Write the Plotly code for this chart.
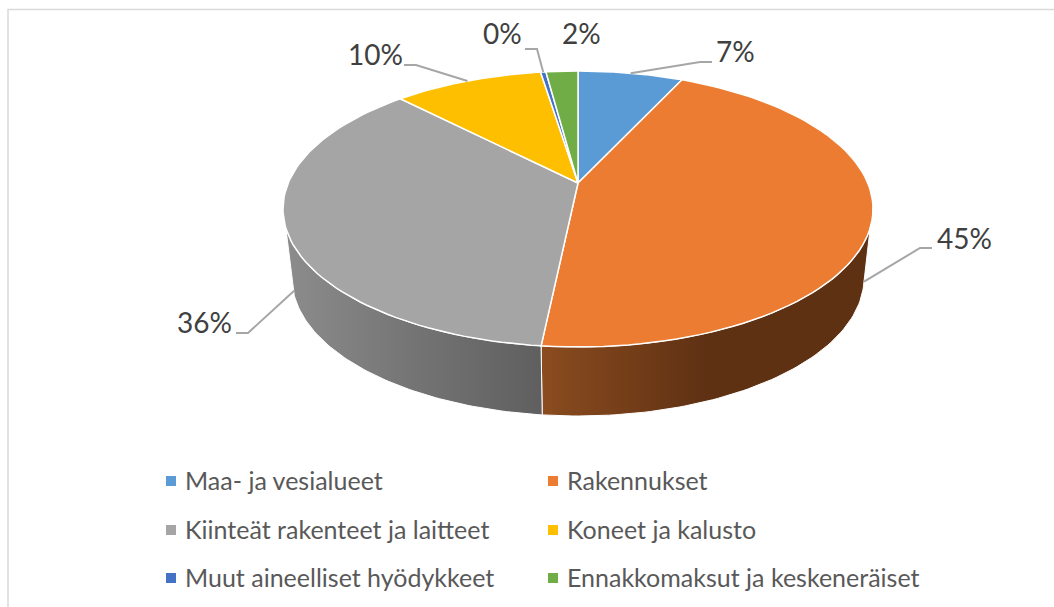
import math
import plotly.graph_objects as go

categories = ["Maa- ja vesialueet", "Rakennukset", "Kiinteät rakenteet ja laitteet",
              "Koneet ja kalusto", "Muut aineelliset hyödykkeet", "Ennakkomaksut ja keskeneräiset"]
values = [6.9, 44.75, 36.1, 9.8, 0.35, 2.1]
colors = ["#5B9BD5", "#EC7C31", "#A5A5A5", "#FDBF00", "#4472C4", "#70AD47"]
wall_grad = {1: ["#8B4C1F", "#5F3113", "#5F3113"], 2: ["#8C8C8C", "#747474", "#5F5F5F"]}
label_elbow = [(700, 62), (920, 248), (248, 333), (416, 65), (537, 49), None]
label_pos = [(735, 51), (964, 238), (204, 322), (375, 54), (502, 33), (581, 33)]

AX, AY = 578, 183      # projected pie centre
RX, RY = 295, 138      # top ellipse radii
CY = AY + 26           # top ellipse centre
BRX, BCY = 286, 278    # bottom ellipse
K = 0.188
A = RX * math.sqrt(1 - K * K)
B = 133.1


def proj(theta):
    X, Y = math.sin(theta), math.cos(theta)
    d = 1 + K * Y
    return AX + A * X / d, AY - B * Y / d


def to_phi(theta):
    x, y = proj(theta)
    p = math.atan2((x - AX) / RX, (CY - y) / RY)
    return p if p >= 0 else p + 2 * math.pi


def top(p):
    return AX + RX * math.sin(p), CY - RY * math.cos(p)


def bot(p):
    return AX + BRX * math.sin(p), BCY - RY * math.cos(p)


def steps(a, b, n=80):
    return [a + (b - a) * i / n for i in range(n + 1)]


fig = go.Figure()

# frame
fig.add_trace(go.Scatter(x=[8, 8, 1054], y=[607, 9.5, 9.5], mode="lines",
                         line=dict(color="#D9D9D9", width=1.5), hoverinfo="skip"))

total = sum(values)
bounds = [0]
for v in values:
    bounds.append(bounds[-1] + v / total * 2 * math.pi)

LO, HI = math.radians(98), math.radians(262)
B0, B1 = math.radians(90), math.radians(270)

# walls
for i in range(len(values)):
    p0, p1 = to_phi(bounds[i]), to_phi(bounds[i + 1]) if i < len(values) - 1 else 2 * math.pi
    s, e = max(p0, LO), min(p1, HI)
    if s >= e or i not in wall_grad:
        continue
    sb = B0 if s == LO else s
    eb = B1 if e == HI else e
    pts = [top(p) for p in steps(s, e)] + [bot(p) for p in steps(eb, sb)]
    xs = [q[0] for q in pts] + [pts[0][0]]
    ys = [q[1] for q in pts] + [pts[0][1]]
    g = wall_grad[i]
    fig.add_trace(go.Scatter(
        x=xs, y=ys, mode="lines", fill="toself", hoverinfo="skip",
        line=dict(color="white", width=1),
        fillgradient=dict(type="horizontal",
                          colorscale=[[0, g[0]], [0.5, g[1]], [1, g[2]]])))

# top slices
for i in range(len(values)):
    ths = steps(bounds[i], bounds[i + 1])
    pts = [proj(t) for t in ths]
    xs = [AX] + [q[0] for q in pts] + [AX]
    ys = [AY] + [q[1] for q in pts] + [AY]
    fig.add_trace(go.Scatter(x=xs, y=ys, mode="lines", fill="toself", fillcolor=colors[i],
                             line=dict(color="white", width=1.5), hoverinfo="skip"))

# leader lines
annotations = []
for i, v in enumerate(values):
    mid = (bounds[i] + bounds[i + 1]) / 2
    ex, ey = proj(mid)
    if ey > CY:
        p = to_phi(mid)
        tx, ty = top(p)
        bx, by = bot(p)
        ex, ey = tx + (bx - tx) * 0.89, ty + (by - ty) * 0.89
    if label_elbow[i]:
        el = label_elbow[i]
        x0 = el[0] + (12 if label_pos[i][0] > el[0] else -12)
        fig.add_trace(go.Scatter(x=[x0, el[0], ex], y=[el[1], el[1], ey], mode="lines",
                                 line=dict(color="#A6A6A6", width=2), hoverinfo="skip"))
    annotations.append(dict(x=label_pos[i][0], y=label_pos[i][1], text=f"{round(v)}%",
                            showarrow=False, xanchor="center", yanchor="middle",
                            font=dict(family="Lato", size=28, color="#404040")))

# legend
leg_x = [171, 553]
leg_y = [480, 529, 577]
for i, c in enumerate(categories):
    col, row = i % 2, i // 2
    fig.add_trace(go.Scatter(x=[leg_x[col]], y=[leg_y[row] + 1], mode="markers", hoverinfo="skip",
                             marker=dict(symbol="square", size=10, color=colors[i])))
    annotations.append(dict(x=leg_x[col] + 12, y=leg_y[row], text=c, showarrow=False,
                            xanchor="left", yanchor="middle",
                            font=dict(family="Lato", size=25, color="#595959")))

fig.update_layout(
    width=1054, height=607, margin=dict(l=0, r=0, t=0, b=0),
    paper_bgcolor="white", plot_bgcolor="white", showlegend=False,
    xaxis=dict(range=[0, 1054], visible=False, fixedrange=True),
    yaxis=dict(range=[607, 0], visible=False, fixedrange=True),
    annotations=annotations,
)
fig.write_html("out.html", config={"displayModeBar": False},
               post_script="document.body.style.margin='0';")
